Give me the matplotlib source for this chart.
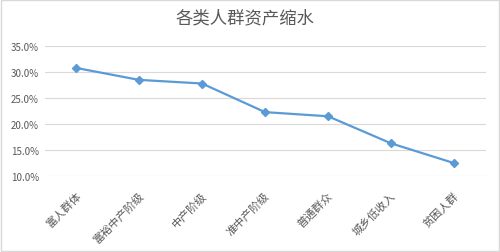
import matplotlib
matplotlib.use("Agg")
import matplotlib.pyplot as plt
import matplotlib.transforms as mtransforms
from matplotlib.ticker import PercentFormatter

plt.rcParams['font.family'] = ['Noto Sans CJK SC', 'DejaVu Sans']

# data
groups = ['富人群体', '富裕中产阶级', '中产阶级', '准中产阶级', '普通群众', '城乡低收入', '贫困人群']
shrink = [30.8, 28.5, 27.8, 22.3, 21.5, 16.3, 12.5]
yticks = [10, 15, 20, 25, 30, 35]

grey = '#595959'

fig = plt.figure(figsize=(5.0, 2.53), dpi=100, facecolor='white')
ax = fig.add_axes([0.089, 0.300, 0.882, 0.514])

x = list(range(len(groups)))
ax.plot(x, shrink, color='#5B9BD5', linewidth=1.6, marker='D', markersize=4,
        markerfacecolor='#5B9BD5', markeredgecolor='#5B9BD5')

ax.set_xlim(-0.5, len(groups) - 0.5)
ax.set_ylim(10, 35)
ax.set_yticks(yticks)
ax.yaxis.set_major_formatter(PercentFormatter(decimals=1))
ax.grid(axis='y', color='#D9D9D9', linewidth=0.8)
ax.set_axisbelow(True)

for s in ax.spines.values():
    s.set_visible(False)
ax.tick_params(axis='both', length=0, colors=grey, labelsize=7)
ax.tick_params(axis='y', pad=4)

ax.set_xticks(x)
ax.set_xticklabels(groups, rotation=45, ha='right', va='center',
                   rotation_mode='anchor', fontsize=8)
ax.tick_params(axis='x', pad=0)
# shift the slanted labels down/right like the spreadsheet does
offset = mtransforms.ScaledTranslation(0.03, -0.17, fig.dpi_scale_trans)
for lab in ax.get_xticklabels():
    lab.set_transform(lab.get_transform() + offset)

fig.suptitle('各类人群资产缩水', x=0.49, y=0.965, fontsize=12.5, color=grey)

# light frame round the whole chart
fig.patches.append(plt.Rectangle((0.002, 0.004), 0.996, 0.992, transform=fig.transFigure,
                                 fill=False, edgecolor='#D9D9D9', linewidth=1))

fig.savefig('out.png', dpi=100)
